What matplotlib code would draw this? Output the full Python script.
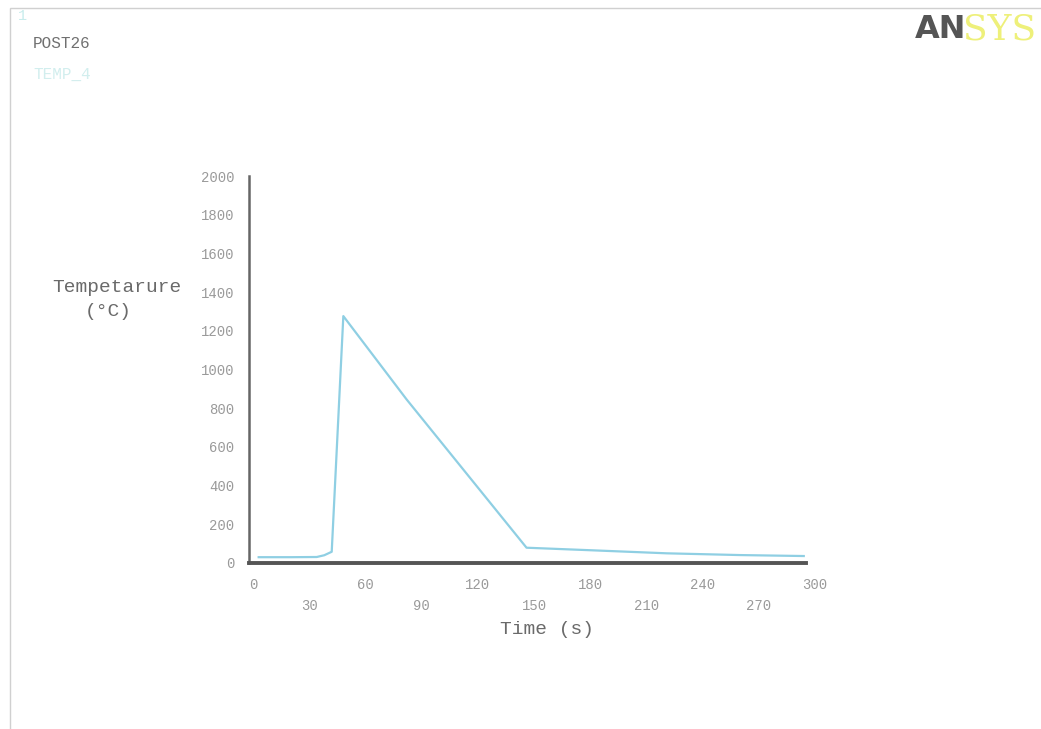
import matplotlib
matplotlib.use("Agg")
import matplotlib.pyplot as plt
from matplotlib.patches import Rectangle

# Temperature history
time_s = [3, 20, 34, 38, 42, 48.2, 82, 146, 180, 221, 260, 294]
temp_c = [30, 30, 31, 40, 58, 1276, 845, 79, 66, 50, 41, 36]

x_major = [0, 60, 120, 180, 240, 300]
x_minor = [30, 90, 150, 210, 270]
y_ticks = [0, 200, 400, 600, 800, 1000, 1200, 1400, 1600, 1800, 2000]

mono = "Liberation Mono"

fig = plt.figure(figsize=(10.41, 7.29), dpi=100)
fig.patch.set_facecolor("white")

# thin frame around the graphics window
fig.patches.append(Rectangle((10 / 1041, -0.01), 1.1, 1 - 8 / 729 + 0.01,
                             transform=fig.transFigure, fill=False,
                             edgecolor="#d0d0d0", linewidth=1))

ax = fig.add_axes([249.3 / 1041, 166 / 729, (815 - 249.3) / 1041, 387 / 729])
ax.plot(time_s, temp_c, color="#8fcfe3", linewidth=1.6)

ax.set_xlim(-2, 300)
ax.set_ylim(0, 2000)

for s in ["top", "right"]:
    ax.spines[s].set_visible(False)
ax.spines["left"].set_color("#666666")
ax.spines["left"].set_linewidth(1.8)
ax.spines["bottom"].set_color("#555555")
ax.spines["bottom"].set_linewidth(2.8)
ax.spines["bottom"].set_bounds(-2, 295)

ax.set_xticks(x_major)
ax.set_xticklabels([str(v) for v in x_major])
ax.set_xticks(x_minor, minor=True)
ax.set_xticklabels([str(v) for v in x_minor], minor=True)
ax.set_yticks(y_ticks)
ax.set_yticklabels([str(v) for v in y_ticks])

ax.tick_params(axis="both", which="both", length=0, labelsize=10,
               labelcolor="#9a9a9a")
ax.tick_params(axis="x", which="major", pad=11)
ax.tick_params(axis="x", which="minor", pad=26)
ax.tick_params(axis="y", pad=11)
for lab in ax.get_xticklabels(which="both") + ax.get_yticklabels():
    lab.set_fontfamily(mono)

ax.set_xlabel("Time (s)", fontsize=14, family=mono, color="#6a6a6a",
              labelpad=6)
ax.xaxis.label.set_x(0.526)
fig.text(117 / 1041, 1 - 287 / 729, "Tempetarure", ha="center",
         va="center", fontsize=14, family=mono, color="#6a6a6a")
fig.text(108 / 1041, 1 - 311 / 729, "(\u00b0C)", ha="center",
         va="center", fontsize=14, family=mono, color="#6a6a6a")

# window annotations
fig.text(18 / 1041, 1 - 16 / 729, "1", fontsize=11, family=mono,
         color="#c8ecec", va="center")
fig.text(33 / 1041, 1 - 44 / 729, "POST26", fontsize=11.5, family=mono,
         color="#707070", va="center")
fig.text(33 / 1041, 1 - 74 / 729, "TEMP_4", fontsize=11.5, family=mono,
         color="#d2eeee", va="center")

# logo
fig.text(915 / 1041, 1 - 30 / 729, "AN", fontsize=23, fontweight="bold",
         family="DejaVu Sans", color="#555555", va="center")
fig.text(963 / 1041, 1 - 30 / 729, "SYS", fontsize=26, family="DejaVu Serif",
         color="#eef07a", va="center")

fig.savefig("out.png", dpi=100)
